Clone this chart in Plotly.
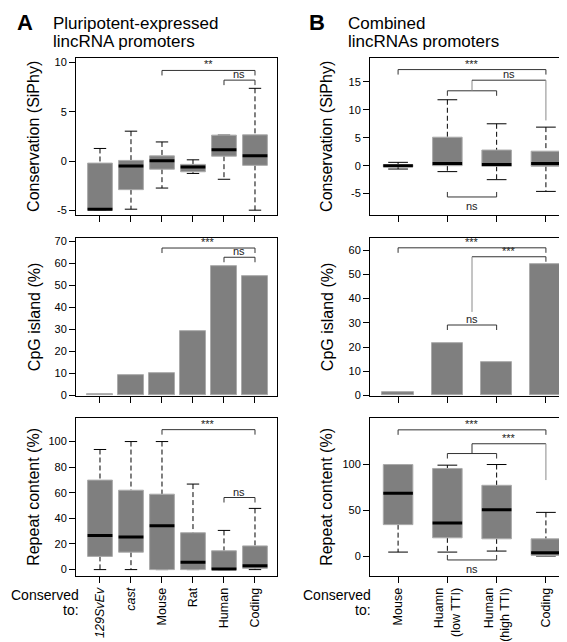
import plotly.graph_objects as go

FONT = "Liberation Sans, Arial, sans-serif"

# ---------------- data ----------------
cats_A = ["<i>129SvEv</i>", "<i>cast</i>", "Mouse", "Rat", "Human", "Coding"]
cats_B = ["Mouse", "Huamn<br>(low TTI)", "Human<br>(high TTI)", "Coding"]

# Conservation (SiPhy) box stats, panel A
siphy_A_lo = [-4.97, -4.87, -2.73, -1.25, -1.84, -4.97]
siphy_A_q1 = [-4.97, -2.89, -0.82, -1.08, 0.50, -0.43]
siphy_A_med = [-4.87, -0.49, 0.03, -0.60, 1.15, 0.53]
siphy_A_q3 = [-0.20, 0.07, 0.53, -0.33, 2.63, 2.66]
siphy_A_hi = [1.28, 3.03, 1.94, 0.13, 2.63, 7.37]

# Conservation (SiPhy) box stats, panel B
siphy_B_lo = [-0.6, -1.06, -2.5, -4.6]
siphy_B_q1 = [-0.2, 0.0, -0.1, -0.1]
siphy_B_med = [0.0, 0.4, 0.2, 0.4]
siphy_B_q3 = [0.2, 5.1, 2.8, 2.6]
siphy_B_hi = [0.6, 11.8, 7.5, 6.9]

# CpG island (%)
cpg_A = [0.3, 9.0, 10.0, 29.4, 58.8, 54.3]
cpg_B = [1.35, 21.8, 13.95, 54.3]

# Repeat content (%) box stats, panel A
rep_A_lo = [0, 0, 0, 0, 0, 0]
rep_A_q1 = [10.3, 13.6, 0, 0, 0, 1.0]
rep_A_med = [26.7, 25.4, 34.2, 5.7, 0.5, 3.1]
rep_A_q3 = [69.9, 62.0, 58.9, 28.8, 14.7, 18.5]
rep_A_hi = [93.8, 100, 100, 66.8, 30.6, 47.8]

# Repeat content (%) box stats, panel B
rep_B_lo = [4.3, 4.3, 5.4, 0]
rep_B_q1 = [34.3, 19.9, 18.8, 0.7]
rep_B_med = [68.6, 36.0, 50.5, 3.6]
rep_B_q3 = [100, 95.7, 77.3, 18.8]
rep_B_hi = [100, 99.3, 100, 47.7]

# significance brackets: (x0, x1, y, label)
sig_A_top = [(3, 6, 9.18, "**"), (5, 6, 8.2, "ns")]
sig_A_mid = [(3, 6, 67.0, "***"), (5, 6, 62.8, "ns")]
sig_A_bot = [(3, 6, 109.3, "***"), (5, 6, 56.3, "ns")]

# ---------------- layout geometry ----------------
W, H = 567, 642
xdomA = [68 / W, 269 / W]
xdomB = [362 / W, 566 / W]
rows = [(48, 207), (230, 390), (412, 572)]
ydom = [[1 - b / H, 1 - t / H] for t, b in rows]

BOX_FILL = "#7f7f7f"
BOX_EDGE = "#ababab"
DARK = "#333333"
GREY = "#8a8a8a"

fig = go.Figure()


def add_boxes(xa, ya, lo, q1, med, q3, hi, bw, cw):
    for i in range(len(lo)):
        x = i + 1
        fig.add_trace(go.Scatter(
            x=[x, x, None, x, x], y=[hi[i], q3[i], None, q1[i], lo[i]],
            mode="lines", line=dict(color="black", width=1, dash="5px,3px"),
            xaxis=xa, yaxis=ya, hoverinfo="skip", showlegend=False))
        fig.add_trace(go.Scatter(
            x=[x - cw / 2, x + cw / 2, None, x - cw / 2, x + cw / 2],
            y=[hi[i], hi[i], None, lo[i], lo[i]],
            mode="lines", line=dict(color="black", width=1),
            xaxis=xa, yaxis=ya, hoverinfo="skip", showlegend=False))
        fig.add_trace(go.Scatter(
            x=[x - bw / 2, x + bw / 2, x + bw / 2, x - bw / 2, x - bw / 2],
            y=[q1[i], q1[i], q3[i], q3[i], q1[i]],
            mode="lines", fill="toself", fillcolor=BOX_FILL,
            line=dict(color=BOX_EDGE, width=1),
            xaxis=xa, yaxis=ya, hoverinfo="skip", showlegend=False))
        fig.add_trace(go.Scatter(
            x=[x - bw / 2, x + bw / 2], y=[med[i], med[i]],
            mode="lines", line=dict(color="black", width=3),
            xaxis=xa, yaxis=ya, hoverinfo="skip", showlegend=False))


def add_bars(xa, ya, vals, bw):
    fig.add_trace(go.Bar(
        x=list(range(1, len(vals) + 1)), y=vals, width=bw,
        marker=dict(color=BOX_FILL, line=dict(color=BOX_EDGE, width=1)),
        xaxis=xa, yaxis=ya, hoverinfo="skip", showlegend=False))


def hline(xr, yr, x0, x1, y, color=DARK):
    fig.add_shape(type="line", xref=xr, yref=yr, x0=x0, x1=x1, y0=y, y1=y,
                  line=dict(color=color, width=1))


def vline(xr, yr, x, y0, y1, color=DARK):
    fig.add_shape(type="line", xref=xr, yref=yr, x0=x, x1=x, y0=y0, y1=y1,
                  line=dict(color=color, width=1))


def tick(xr, yr, x, y, px=-5, color=DARK):
    fig.add_shape(type="line", xref=xr, yref=yr, x0=x, x1=x,
                  ysizemode="pixel", yanchor=y, y0=0, y1=px,
                  line=dict(color=color, width=1))


def label(xr, yr, x, y, text, below=False):
    fig.add_annotation(x=x, y=y, xref=xr, yref=yr, text=text, showarrow=False,
                       yanchor="top" if below else "bottom",
                       yshift=-1 if below else -2,
                       font=dict(family=FONT, size=11, color="#222222"))


def bracket(xr, yr, x0, x1, y, text, px=-5):
    hline(xr, yr, x0, x1, y)
    tick(xr, yr, x0, y, px)
    tick(xr, yr, x1, y, px)
    if text:
        label(xr, yr, (x0 + x1) / 2, y, text, below=px > 0)


# ---------------- panels ----------------
# A top
add_boxes("x", "y", siphy_A_lo, siphy_A_q1, siphy_A_med, siphy_A_q3, siphy_A_hi, 0.8, 0.4)
for b in sig_A_top:
    bracket("x", "y", *b)
# B top
add_boxes("x2", "y2", siphy_B_lo, siphy_B_q1, siphy_B_med, siphy_B_q3, siphy_B_hi, 0.6, 0.4)
bracket("x2", "y2", 1, 4, 17.2, "***")
bracket("x2", "y2", 2, 3, 13.4, "")
vline("x2", "y2", 2.5, 13.4, 15.3, GREY)
hline("x2", "y2", 2.5, 4, 15.3)
vline("x2", "y2", 4, 15.3, 8.1, GREY)
label("x2", "y2", 3.25, 15.3, "ns")
bracket("x2", "y2", 2, 3, -5.6, "ns", px=5)

# A mid
add_bars("x3", "y3", cpg_A, 0.86)
for b in sig_A_mid:
    bracket("x3", "y3", *b)
# B mid
add_bars("x4", "y4", cpg_B, 0.64)
bracket("x4", "y4", 1, 4, 61.0, "***")
hline("x4", "y4", 2.5, 4, 57.3)
tick("x4", "y4", 4, 57.3)
vline("x4", "y4", 2.5, 57.3, 34.5, GREY)
label("x4", "y4", 3.25, 57.3, "***")
bracket("x4", "y4", 2, 3, 29.1, "ns")

# A bottom
add_boxes("x5", "y5", rep_A_lo, rep_A_q1, rep_A_med, rep_A_q3, rep_A_hi, 0.8, 0.4)
for b in sig_A_bot:
    bracket("x5", "y5", *b)
# B bottom
add_boxes("x6", "y6", rep_B_lo, rep_B_q1, rep_B_med, rep_B_q3, rep_B_hi, 0.6, 0.4)
bracket("x6", "y6", 1, 4, 137.9, "***")
hline("x6", "y6", 2.5, 4, 122.7)
vline("x6", "y6", 4, 122.7, 83, GREY)
vline("x6", "y6", 2.5, 122.7, 112)
label("x6", "y6", 3.25, 122.7, "***")
bracket("x6", "y6", 2, 3, 112, "")
bracket("x6", "y6", 2, 3, -4.3, "ns", px=5)


# ---------------- axes ----------------
def xax(dom, rng, cats, show):
    return dict(domain=dom, range=rng, tickmode="array",
                tickvals=list(range(1, len(cats) + 1)),
                ticktext=cats if show else [""] * len(cats),
                showticklabels=show, tickangle=-90,
                tickfont=dict(family=FONT, size=12.5, color="black"),
                showline=True, linecolor="black", linewidth=1, mirror=True,
                ticks="outside", ticklen=6, tickcolor="black",
                showgrid=False, zeroline=False, fixedrange=True)


def yax(dom, rng, tv, anchor):
    return dict(domain=dom, range=rng, tickmode="array", tickvals=tv,
                ticktext=[str(v) for v in tv],
                tickfont=dict(family=FONT, size=11, color="black"),
                showline=True, linecolor="black", linewidth=1, mirror=True,
                ticks="outside", ticklen=6, tickcolor="black",
                showgrid=False, zeroline=False, fixedrange=True, anchor=anchor)


xrA = [0.226, 6.71]
xrB = [0.43, 4.57]
fig.update_layout(
    xaxis=dict(xax(xdomA, xrA, cats_A, False), anchor="y"),
    yaxis=yax(ydom[0], [-5.5, 10.4], [-5, 0, 5, 10], "x"),
    xaxis2=dict(xax(xdomB, xrB, cats_B, False), anchor="y2"),
    yaxis2=yax(ydom[0], [-8.9, 19.2], [-5, 0, 5, 10, 15], "x2"),
    xaxis3=dict(xax(xdomA, xrA, cats_A, False), anchor="y3"),
    yaxis3=yax(ydom[1], [-0.4, 71.5], [0, 10, 20, 30, 40, 50, 60, 70], "x3"),
    xaxis4=dict(xax(xdomB, xrB, cats_B, False), anchor="y4"),
    yaxis4=yax(ydom[1], [-0.3, 65], [0, 10, 20, 30, 40, 50, 60], "x4"),
    xaxis5=dict(xax(xdomA, xrA, cats_A, True), anchor="y5"),
    yaxis5=yax(ydom[2], [-4.9, 118.5], [0, 20, 40, 60, 80, 100], "x5"),
    xaxis6=dict(xax(xdomB, xrB, cats_B, True), anchor="y6"),
    yaxis6=yax(ydom[2], [-21.7, 151], [0, 50, 100], "x6"),
)

# ---------------- text ----------------
def ptext(x, y, text, size, xanchor="left", angle=0):
    fig.add_annotation(x=x / W, y=1 - y / H, xref="paper", yref="paper",
                       text=text, showarrow=False, xanchor=xanchor,
                       yanchor="middle", textangle=angle,
                       font=dict(family=FONT, size=size, color="black"))


ptext(7, 12, "<b>A</b>", 22)
ptext(43, 13, "Pluripotent-expressed", 17)
ptext(43, 31, "lincRNA promoters", 17)
ptext(299, 12, "<b>B</b>", 22)
ptext(338, 13, "Combined", 17)
ptext(338, 31, "lincRNAs promoters", 17)

ytitles = ["Conservation (SiPhy)", "CpG island (%)", "Repeat content (%)"]
for (t, b), txt in zip(rows, ytitles):
    ptext(26, (t + b) / 2, txt, 16, xanchor="center", angle=-90)
    ptext(319, (t + b) / 2, txt, 16, xanchor="center", angle=-90)

ptext(73, 591, "Conserved", 14, xanchor="right")
ptext(73, 607, "to:", 14, xanchor="right")
ptext(365, 591, "Conserved", 14, xanchor="right")
ptext(365, 607, "to:", 14, xanchor="right")

fig.update_layout(
    width=W, height=H, margin=dict(l=0, r=0, t=0, b=0),
    paper_bgcolor="white", plot_bgcolor="white", showlegend=False,
    bargap=0,
)

fig.write_html("out.html")
